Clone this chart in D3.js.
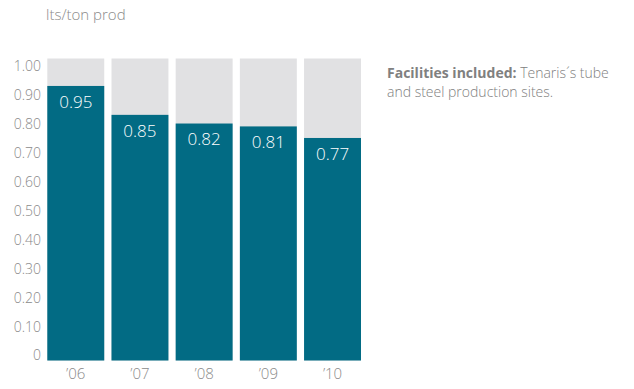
<!DOCTYPE html>
<html>
<head>
<meta charset="utf-8">
<script src="https://cdn.jsdelivr.net/npm/d3@7"></script>
<style>
  body { margin: 0; background: #fff; }
  svg text { font-family: "Open Sans", sans-serif; }
</style>
</head>
<body>
<svg width="634" height="389"></svg>
<script>
// ---- Dados
const years = ["’06", "’07", "’08", "’09", "’10"];
const values = [0.95, 0.85, 0.82, 0.81, 0.77];
const ticks = [0, 0.1, 0.2, 0.3, 0.4, 0.5, 0.6, 0.7, 0.8, 0.9, 1.0];
const backMax = 1.045;   // altura das barras cinzas de fundo

const svg = d3.select('svg');

// ---- Escalas
const mapX = d3.scaleBand()
    .domain(years)
    .range([47.3, 361])
    .paddingInner(0.113)
    .paddingOuter(0);

const mapY = d3.scaleLinear()
    .domain([0, backMax])
    .range([360.5, 58.5]);

// ---- Barras de fundo
svg.selectAll('.fundo')
    .data(years)
    .enter()
    .append('rect')
    .attr('class', 'fundo')
    .attr('x', d => mapX(d))
    .attr('y', mapY(backMax))
    .attr('width', mapX.bandwidth())
    .attr('height', mapY(0) - mapY(backMax))
    .attr('fill', '#e1e1e3');

// ---- Barras
svg.selectAll('.barra')
    .data(values)
    .enter()
    .append('rect')
    .attr('class', 'barra')
    .attr('x', (d, i) => mapX(years[i]))
    .attr('y', d => mapY(d))
    .attr('width', mapX.bandwidth())
    .attr('height', d => mapY(0) - mapY(d))
    .attr('fill', '#026b84');

svg.selectAll('.valor')
    .data(values)
    .enter()
    .append('text')
    .attr('x', (d, i) => mapX(years[i]) + mapX.bandwidth() / 2)
    .attr('y', d => mapY(d) + 16)
    .attr('dy', '0.35em')
    .attr('text-anchor', 'middle')
    .attr('fill', '#fff')
    .style('font-size', '17px')
    .style('font-weight', 300)
    .text(d => d.toFixed(2));

// ---- Eixos
const eixoY = d3.axisLeft(mapY)
    .tickValues(ticks)
    .tickSize(0)
    .tickPadding(0)
    .tickFormat(d => d === 0 ? '0' : d.toFixed(2));

svg.append('g')
    .attr('transform', 'translate(41, -5)')
    .call(eixoY)
    .call(g => g.select('.domain').remove())
    .selectAll('text')
    .attr('fill', '#8a8a8a')
    .style('font-family', '"Open Sans", sans-serif')
    .style('font-size', '14px')
    .style('font-weight', 300);

const eixoX = d3.axisBottom(mapX)
    .tickSize(0)
    .tickPadding(8);

svg.append('g')
    .attr('transform', `translate(0, ${mapY(0)})`)
    .call(eixoX)
    .call(g => g.select('.domain').remove())
    .selectAll('text')
    .attr('fill', '#8a8a8a')
    .style('font-family', '"Open Sans", sans-serif')
    .style('font-size', '15px')
    .style('font-weight', 300);

// ---- Títulos
svg.append('text')
    .attr('x', 46)
    .attr('y', 20)
    .attr('fill', '#8a8a8a')
    .style('font-size', '15px')
    .style('font-weight', 300)
    .text('lts/ton prod');

const nota = svg.append('text')
    .attr('x', 387)
    .attr('y', 78)
    .attr('fill', '#808080')
    .style('font-size', '14px');

nota.append('tspan')
    .style('font-weight', 700)
    .text('Facilities included:');
nota.append('tspan')
    .style('font-weight', 300)
    .text(' Tenaris´s tube');

svg.append('text')
    .attr('x', 387)
    .attr('y', 97)
    .attr('fill', '#808080')
    .style('font-size', '14px')
    .style('font-weight', 300)
    .text('and steel production sites.');
</script>
</body>
</html>
